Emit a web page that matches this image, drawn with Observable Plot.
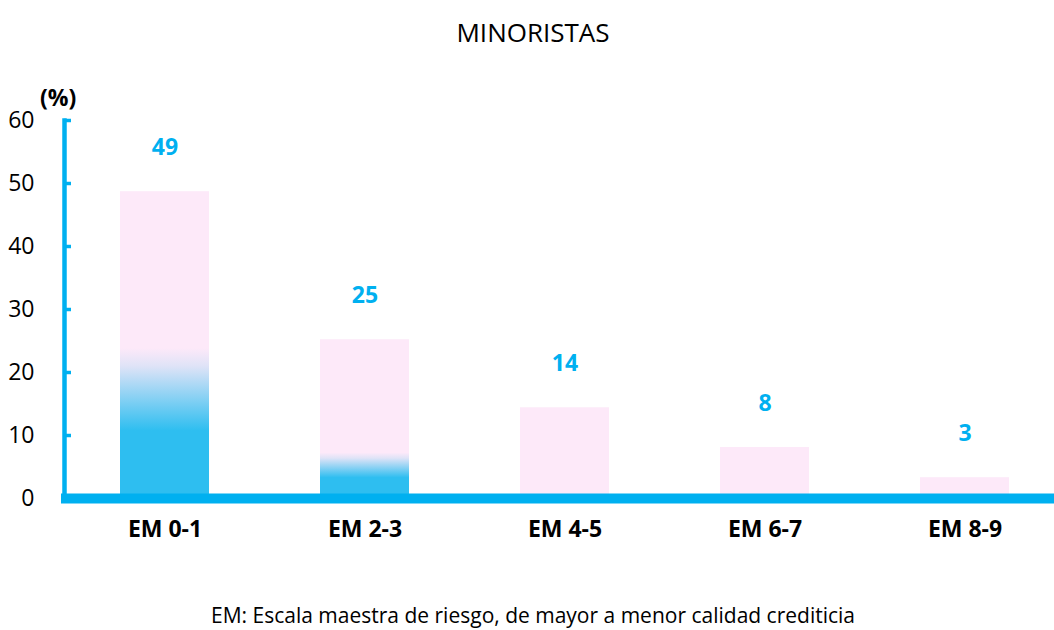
<!DOCTYPE html>
<html>
<head>
<meta charset="utf-8">
<script src="https://cdn.jsdelivr.net/npm/d3@7"></script>
<script src="https://cdn.jsdelivr.net/npm/@observablehq/plot@0.6"></script>
<style>
  html, body { margin: 0; padding: 0; background: #fff; }
  #wrap { position: relative; width: 1054px; height: 630px; overflow: hidden; font-family: "Open Sans", sans-serif; }
  #title { position: absolute; left: 0; top: 14px; width: 1066px; text-align: center; font-size: 26px; color: #000; line-height: 36px; }
  #unit { position: absolute; left: 40px; top: 82px; font-size: 23px; font-weight: bold; color: #000; line-height: 30px; }
  #caption { position: absolute; left: 0; top: 602px; width: 1066px; text-align: center; font-size: 21px; color: #000; line-height: 26px; }
  #chart { position: absolute; left: 0; top: 0; }
</style>
</head>
<body>
<div id="wrap">
  <div id="chart"></div>
  <div id="title">MINORISTAS</div>
  <div id="unit">(%)</div>
  <div id="caption">EM: Escala maestra de riesgo, de mayor a menor calidad crediticia</div>
</div>
<script>
const categorias = ["EM 0-1", "EM 2-3", "EM 4-5", "EM 6-7", "EM 8-9"];
const valores = [48.7, 25.2, 14.4, 8.1, 3.3];
const etiquetas = [49, 25, 14, 8, 3];
const parteAzul = [23.8, 7.2, 0, 0, 0];
const ticksY = [0, 10, 20, 30, 40, 50, 60];

const datos = categorias.map((c, i) => ({cat: c, valor: valores[i], etiqueta: etiquetas[i], azul: parteAzul[i]}));

const rosa = "#fde9f9";
const azulBarra = "#2ebef0";
const azulEje = "#00b0f0";

const chart = Plot.plot({
  width: 1054,
  height: 630,
  marginLeft: 64,
  marginRight: 0,
  marginTop: 120,
  marginBottom: 132,
  style: {fontFamily: "Open Sans", background: "transparent", color: "#000"},
  x: {domain: categorias, range: [64, 1064], paddingInner: 0.555, paddingOuter: 0.2775, label: null},
  y: {domain: [0, 60], label: null},
  marks: [
    () => {
      const ns = "http://www.w3.org/2000/svg";
      const defs = document.createElementNS(ns, "defs");
      defs.innerHTML = `<linearGradient id="gradAzul" x1="0" y1="0" x2="0" y2="1">
        <stop offset="0" stop-color="${rosa}"/>
        <stop offset="0.12" stop-color="#dfe3f7"/>
        <stop offset="0.55" stop-color="${azulBarra}"/>
        <stop offset="1" stop-color="${azulBarra}"/>
      </linearGradient>`;
      return defs;
    },
    Plot.barY(datos, {x: "cat", y: "valor", fill: rosa}),
    Plot.barY(datos.filter(d => d.azul > 0), {x: "cat", y: "azul", fill: "url(#gradAzul)"}),
    Plot.axisY({ticks: ticksY, tickSize: 0, tickPadding: 30, fontSize: 23, tickFormat: d => String(d)}),
    Plot.axisY({ticks: ticksY, tickSize: 7, dx: 7, stroke: azulEje, strokeWidth: 3.5, tickFormat: () => ""}),
    Plot.frame({anchor: "left", stroke: azulEje, strokeWidth: 4.5}),
    Plot.ruleY([0], {stroke: azulEje, strokeWidth: 10, insetLeft: -3}),
    Plot.axisX({tickSize: 0, tickPadding: 22, fontSize: 23, fontWeight: "bold"}),
    Plot.text(datos, {x: "cat", y: "valor", text: d => String(d.etiqueta), dy: -44, fill: azulEje, fontWeight: "bold", fontSize: 23})
  ]
});
document.getElementById("chart").appendChild(chart);
</script>
</body>
</html>
